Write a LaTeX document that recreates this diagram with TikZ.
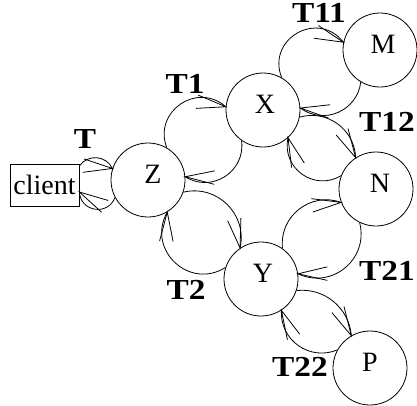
\documentclass[tikz,border=0pt]{standalone}
\usepackage{fontspec}
\setmainfont{Liberation Serif}
\newfontfamily\lblfont[FakeStretch=1.15]{Liberation Serif}
\usetikzlibrary{calc}
\tikzset{
  circ/.style={circle, draw, line width=0.8pt, minimum size=74pt, inner sep=0pt},
  nlab/.style={anchor=base, inner sep=0pt, font=\fontsize{28}{30}\selectfont},
  tlab/.style={inner sep=0pt, font=\lblfont\fontsize{29}{31}\selectfont\bfseries},
  arcb/.code={\pgfmathsetmacro\arcblns{1.703/(1+cos(#1))}\edef\arcbtmp{\noexpand\tikzset{bend left=#1,looseness=\arcblns}}\arcbtmp},
  arcline/.style={draw, line width=0.8pt},
}
% #1 start, #2 bend angle, #3 pos of aiming point, #4 end (tip), #5 aiming point name
\newcommand{\flowarc}[5]{%
  \draw[arcline] (#1) to[arcb=#2] coordinate[pos=#3] (#5) (#4);
  \draw[arcline] ($(#4)!30pt!13:(#5)$) -- (#4) -- ($(#4)!30pt!-13:(#5)$);}
\begin{document}
\begin{tikzpicture}[x=1pt,y=1pt]
\useasboundingbox (0,0) rectangle (417,-405);
% nodes
\node[draw, line width=0.8pt, minimum width=69pt, minimum height=42pt, inner sep=0pt, font=\fontsize{28}{30}\selectfont] (client) at (44.5,-185) {client};
\node[circ] (Z) at (148,-180) {};
\node[circ] (X) at (263,-110) {};
\node[circ] (Y) at (261,-279) {};
\node[circ] (M) at (380,-50) {};
\node[circ] (N) at (376,-189) {};
\node[circ] (P) at (370,-368) {};
\node[nlab] (Zl) at ([xshift=5pt,yshift=-3pt]Z.center) {Z};
\node[nlab] (Xl) at ([xshift=2pt,yshift=-3pt]X.center) {X};
\node[nlab] (Yl) at ([xshift=2pt,yshift=-3pt]Y.center) {Y};
\node[nlab] (Ml) at ([xshift=3pt,yshift=-3pt]M.center) {M};
\node[nlab] (Nl) at ([xshift=4pt,yshift=-3pt]N.center) {N};
\node[nlab] (Pl) at ([xshift=0pt,yshift=-3pt]P.center) {P};
% transaction labels
\node[tlab] (T) at (85,-139) {T};
\node[tlab] (T1) at (185,-84) {T1};
\node[tlab] (T11) at (319,-13) {T11};
\node[tlab] (T12) at (387,-122) {T12};
\node[tlab] (T2) at (186,-290) {T2};
\node[tlab] (T21) at (387,-271) {T21};
\node[tlab] (T22) at (300,-367) {T22};
% connection points on the client box
\coordinate (cin) at ([yshift=19pt]client.east);
\coordinate (cout) at ([yshift=-7pt]client.east);
% arcs with open arrowheads
\flowarc{cin}{60}{0.02}{Z.162}{a1}
\flowarc{Z.208}{78}{0.25}{cout}{a2}
\flowarc{Z.60}{76}{0.59}{X.175}{a3}
\flowarc{X.235}{65}{0.53}{Z.5}{a4}
\flowarc{Z.-19}{58}{0.59}{Y.124}{a5}
\flowarc{Y.162}{76}{0.64}{Z.-59}{a6}
\flowarc{X.60}{82}{0.62}{M.168}{a7}
\flowarc{M.239}{60}{0.50}{X.3}{a8}
\flowarc{X.-11}{52}{0.51}{N.123}{a9}
\flowarc{N.159}{67}{0.52}{X.-48}{a10}
\flowarc{Y.55}{58}{0.56}{N.201}{a11}
\flowarc{N.244}{65}{0.61}{Y.8}{a12}
\flowarc{Y.-18}{46}{0.51}{P.120}{a13}
\flowarc{P.151}{58}{0.52}{Y.-57}{a14}
\end{tikzpicture}
\end{document}
